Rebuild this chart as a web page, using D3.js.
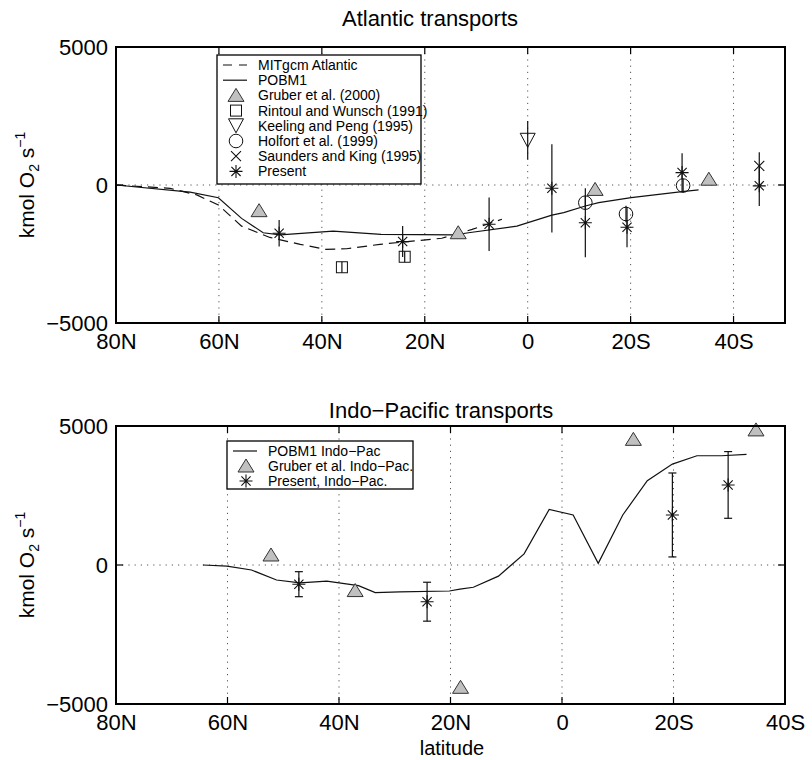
<!DOCTYPE html>
<html>
<head>
<meta charset="utf-8">
<script src="https://cdn.jsdelivr.net/npm/d3@7"></script>
<style>
  body { margin: 0; background: #fff; }
  svg { display: block; font-family: "Liberation Sans", Arial, sans-serif; }
</style>
</head>
<body>
<div id="chart"></div>
<script>
// ---- data (latitude: positive = N, negative = S) ----
const xTickVals = [80, 60, 40, 20, 0, -20, -40];
const xTickLabels = ["80N", "60N", "40N", "20N", "0", "20S", "40S"];
const yTickVals = [-5000, 0, 5000];

// Atlantic
const atlModelLat = [80, 65.6, 60.1, 55.6, 51.4, 48.1, 37.8, 28.5, 14.1, 11.5, 2.1, -4.7, -7, -11.2, -13.8, -20.1, -30, -33.2];
const atlPOBM1 = [0, -260, -460, -1210, -1730, -1810, -1670, -1790, -1810, -1730, -1490, -1090, -1000, -760, -640, -460, -240, -180];
const atlMitLat = [80, 69.5, 64.3, 60.1, 55.6, 50.1, 44.2, 39.4, 35.2, 28.7, 16.7, 10.8, 5];
const atlMITgcm = [0, -120, -360, -725, -1490, -1900, -2150, -2330, -2310, -2150, -1930, -1610, -1240];

const gruberLat = [52.2, 13.5, -13.1, -35.2];
const gruberVal = [-930, -1730, -160, 210];
const rintoulLat = [36.1, 23.9];
const rintoulVal = [-2980, -2600];
const rintoulErr = [200, 200];
const keelingLat = [0];
const keelingVal = [1620];
const keelingErr = [700];
const holfortLat = [-11.2, -19.1, -30.2];
const holfortVal = [-640, -1050, -20];
const holfortErr = [250, 300, 250];
const saundersLat = [-45];
const saundersVal = [690];
const saundersErr = [500];
const presentLat = [48.3, 24.3, 7.5, -4.7, -11.2, -19.3, -30, -45];
const presentVal = [-1750, -2050, -1420, -120, -1370, -1530, 450, -30];
const presentErr = [480, 560, 970, 1600, 1250, 725, 700, 730];

// Indo-Pacific
const ipModelLat = [64.4, 60.1, 55.7, 51.2, 47, 42.2, 36.5, 33.5, 29.1, 20.2, 18.3, 15.9, 11.4, 6.8, 2.3, -2, -6.5, -10.9, -15.3, -19.8, -24.2, -28.6, -33.1];
const ipPOBM1 = [0, -40, -180, -540, -640, -580, -740, -990, -965, -935, -870, -800, -400, 400, 2000, 1800, 60, 1800, 3030, 3630, 3930, 3930, 3980];
const ipGruberLat = [52.2, 37.1, 18.2, -12.8, -34.8];
const ipGruberVal = [360, -920, -4400, 4520, 4860];
const ipPresentLat = [47.2, 24.2, -19.8, -29.8];
const ipPresentVal = [-690, -1320, 1800, 2880];
const ipPresentErr = [450, 700, 1510, 1200];

const atlLegend = ["MITgcm Atlantic", "POBM1", "Gruber et al. (2000)", "Rintoul and Wunsch (1991)",
  "Keeling and Peng (1995)", "Holfort et al. (1999)", "Saunders and King (1995)", "Present"];
const atlLegendSym = ["dash", "line", "tri", "sq", "dtri", "circ", "x", "ast"];
const ipLegend = ["POBM1 Indo\u2212Pac", "Gruber et al. Indo\u2212Pac.", "Present, Indo\u2212Pac."];
const ipLegendSym = ["line", "tri", "ast"];

// ---- drawing ----
const width = 812, height = 760;
const svg = d3.select("#chart").append("svg")
  .attr("width", width).attr("height", height);

const ink = "#111";
const triFill = "#c0c0c0";

function marker(g, type, x, y) {
  const p = d3.path();
  if (type === "tri") {
    g.append("path").attr("d", `M${x},${y - 7}L${x + 8},${y + 6}L${x - 8},${y + 6}Z`)
      .attr("fill", triFill).attr("stroke", "#333").attr("stroke-width", 1);
  } else if (type === "dtri") {
    g.append("path").attr("d", `M${x - 7.5},${y - 7}L${x + 7.5},${y - 7}L${x},${y + 7}Z`)
      .attr("fill", "none").attr("stroke", ink).attr("stroke-width", 1);
  } else if (type === "sq") {
    g.append("rect").attr("x", x - 5.5).attr("y", y - 5.5).attr("width", 11).attr("height", 11)
      .attr("fill", "none").attr("stroke", ink).attr("stroke-width", 1);
  } else if (type === "circ") {
    g.append("circle").attr("cx", x).attr("cy", y).attr("r", 6.8)
      .attr("fill", "none").attr("stroke", ink).attr("stroke-width", 1);
  } else if (type === "x") {
    p.moveTo(x - 5, y - 5); p.lineTo(x + 5, y + 5);
    p.moveTo(x - 5, y + 5); p.lineTo(x + 5, y - 5);
    g.append("path").attr("d", p.toString()).attr("stroke", ink).attr("stroke-width", 1.1);
  } else if (type === "ast") {
    const a = 6.5, b = 4.6;
    p.moveTo(x - a, y); p.lineTo(x + a, y);
    p.moveTo(x, y - a); p.lineTo(x, y + a);
    p.moveTo(x - b, y - b); p.lineTo(x + b, y + b);
    p.moveTo(x - b, y + b); p.lineTo(x + b, y - b);
    g.append("path").attr("d", p.toString()).attr("stroke", ink).attr("stroke-width", 1.1);
  }
}

function drawPanel(cfg) {
  const x = d3.scaleLinear().domain(cfg.xDomain).range([cfg.left, cfg.right]);
  const y = d3.scaleLinear().domain([-5000, 5000]).range([cfg.bottom, cfg.top]);
  const g = svg.append("g");

  // grid
  g.append("g").selectAll("line").data(xTickVals.filter(d => d < cfg.xDomain[0] && d > cfg.xDomain[1]))
    .join("line")
    .attr("x1", d => x(d)).attr("x2", d => x(d))
    .attr("y1", cfg.top).attr("y2", cfg.bottom)
    .attr("stroke", "#555").attr("stroke-width", 1).attr("stroke-dasharray", "1.2,5");
  g.append("line")
    .attr("x1", cfg.left).attr("x2", cfg.right).attr("y1", y(0)).attr("y2", y(0))
    .attr("stroke", "#555").attr("stroke-width", 1).attr("stroke-dasharray", "1.2,5");

  // axes
  const xb = d3.axisBottom(x).tickValues(xTickVals).tickSize(0).tickPadding(10)
    .tickFormat((d, i) => xTickLabels[i]);
  g.append("g").attr("transform", `translate(0,${cfg.bottom})`).call(xb)
    .call(a => a.select(".domain").remove())
    .call(a => a.selectAll("text").attr("font-size", 22).attr("fill", "#000")
      .attr("font-family", "Liberation Sans, Arial, sans-serif"));
  const yl = d3.axisLeft(y).tickValues(yTickVals).tickSize(0).tickPadding(8)
    .tickFormat(d => d < 0 ? "\u2212" + Math.abs(d) : d);
  g.append("g").attr("transform", `translate(${cfg.left},0)`).call(yl)
    .call(a => a.select(".domain").remove())
    .call(a => a.selectAll("text").attr("font-size", 22).attr("fill", "#000")
      .attr("font-family", "Liberation Sans, Arial, sans-serif"));

  // inward ticks on all four sides
  const tk = g.append("g").attr("stroke", "#000").attr("stroke-width", 1.2);
  xTickVals.forEach(v => {
    tk.append("line").attr("x1", x(v)).attr("x2", x(v)).attr("y1", cfg.bottom).attr("y2", cfg.bottom - 7);
    tk.append("line").attr("x1", x(v)).attr("x2", x(v)).attr("y1", cfg.top).attr("y2", cfg.top + 7);
  });
  yTickVals.forEach(v => {
    tk.append("line").attr("x1", cfg.left).attr("x2", cfg.left + 7).attr("y1", y(v)).attr("y2", y(v));
    tk.append("line").attr("x1", cfg.right).attr("x2", cfg.right - 7).attr("y1", y(v)).attr("y2", y(v));
  });

  // lines
  const line = d3.line().x(d => x(d[0])).y(d => y(d[1]));
  cfg.lines.forEach(s => {
    g.append("path").datum(d3.zip(s.lat, s.val))
      .attr("d", line).attr("fill", "none").attr("stroke", ink).attr("stroke-width", 1.2)
      .attr("stroke-dasharray", s.dash || null);
  });

  // points + error bars
  cfg.points.forEach(s => {
    s.lat.forEach((la, i) => {
      if (s.err) {
        const e = s.err[i];
        g.append("line").attr("x1", x(la)).attr("x2", x(la))
          .attr("y1", y(s.val[i] - e)).attr("y2", y(s.val[i] + e))
          .attr("stroke", ink).attr("stroke-width", 1.2);
        if (cfg.caps) {
          [s.val[i] - e, s.val[i] + e].forEach(v => {
            g.append("line").attr("x1", x(la) - 4).attr("x2", x(la) + 4)
              .attr("y1", y(v)).attr("y2", y(v)).attr("stroke", ink).attr("stroke-width", 1.2);
          });
        }
      }
      marker(g, s.sym, x(la), y(s.val[i]));
    });
  });

  // frame
  g.append("rect").attr("x", cfg.left).attr("y", cfg.top)
    .attr("width", cfg.right - cfg.left).attr("height", cfg.bottom - cfg.top)
    .attr("fill", "none").attr("stroke", "#000").attr("stroke-width", 2);

  // title
  g.append("text").attr("x", cfg.titleX).attr("y", cfg.titleY)
    .attr("text-anchor", "middle").attr("font-size", 22).text(cfg.title);

  // y label
  const yt = g.append("text")
    .attr("transform", `translate(34,${(cfg.top + cfg.bottom) / 2}) rotate(-90)`)
    .attr("text-anchor", "middle").attr("font-size", 21);
  yt.append("tspan").text("kmol O");
  yt.append("tspan").attr("font-size", 14).attr("dy", 5).text("2");
  yt.append("tspan").attr("dy", -5).text(" s");
  yt.append("tspan").attr("font-size", 14).attr("dy", -9).text("\u22121");

  // legend
  const L = cfg.legend;
  const lg = g.append("g");
  lg.append("rect").attr("x", L.x).attr("y", L.y).attr("width", L.w).attr("height", L.h)
    .attr("fill", "#fff").attr("stroke", "#000").attr("stroke-width", 1.3);
  L.labels.forEach((lab, i) => {
    const cy = L.y + L.first + i * L.step;
    const sym = L.syms[i];
    if (sym === "line" || sym === "dash") {
      lg.append("line").attr("x1", L.x + 6).attr("x2", L.x + 30).attr("y1", cy).attr("y2", cy)
        .attr("stroke", ink).attr("stroke-width", 1.2)
        .attr("stroke-dasharray", sym === "dash" ? "9,7" : null);
    } else {
      marker(lg, sym, L.x + 19, cy);
    }
    lg.append("text").attr("x", L.x + 41).attr("y", cy + 5).attr("font-size", 14).text(lab);
  });
}

drawPanel({
  title: "Atlantic transports", titleX: 430, titleY: 26,
  xDomain: [80, -50], left: 116, right: 785, top: 47, bottom: 323,
  caps: false,
  lines: [
    { lat: atlMitLat, val: atlMITgcm, dash: "10,6" },
    { lat: atlModelLat, val: atlPOBM1 }
  ],
  points: [
    { lat: gruberLat, val: gruberVal, sym: "tri" },
    { lat: rintoulLat, val: rintoulVal, err: rintoulErr, sym: "sq" },
    { lat: keelingLat, val: keelingVal, err: keelingErr, sym: "dtri" },
    { lat: holfortLat, val: holfortVal, err: holfortErr, sym: "circ" },
    { lat: saundersLat, val: saundersVal, err: saundersErr, sym: "x" },
    { lat: presentLat, val: presentVal, err: presentErr, sym: "ast" }
  ],
  legend: { x: 217, y: 55, w: 204, h: 129, first: 10, step: 15.2, labels: atlLegend, syms: atlLegendSym }
});

drawPanel({
  title: "Indo\u2212Pacific transports", titleX: 441, titleY: 418,
  xDomain: [80, -40], left: 116, right: 785, top: 426, bottom: 704,
  caps: true,
  lines: [
    { lat: ipModelLat, val: ipPOBM1 }
  ],
  points: [
    { lat: ipGruberLat, val: ipGruberVal, sym: "tri" },
    { lat: ipPresentLat, val: ipPresentVal, err: ipPresentErr, sym: "ast" }
  ],
  legend: { x: 227, y: 441, w: 186, h: 48, first: 10, step: 15, labels: ipLegend, syms: ipLegendSym }
});

svg.append("text").attr("x", 452).attr("y", 755).attr("text-anchor", "middle")
  .attr("font-size", 20).text("latitude");
</script>
</body>
</html>
